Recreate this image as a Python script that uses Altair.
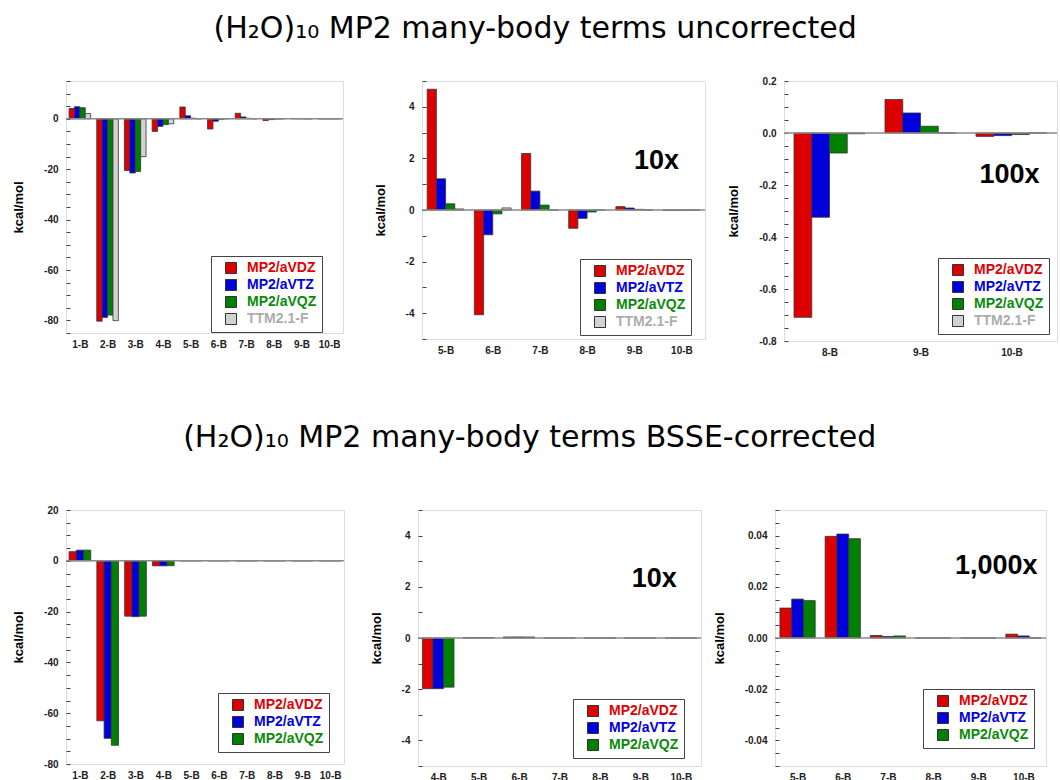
import json
import altair as alt
import pandas as pd

# ---------------- data ----------------
CATS = ["1-B", "2-B", "3-B", "4-B", "5-B", "6-B", "7-B", "8-B", "9-B", "10-B"]

SERIES_UNC = ["MP2/aVDZ", "MP2/aVTZ", "MP2/aVQZ", "TTM2.1-F"]
SERIES_COR = ["MP2/aVDZ", "MP2/aVTZ", "MP2/aVQZ"]

# uncorrected many-body terms (kcal/mol)
unc_avdz = [4.1, -80.3, -20.5, -5.0, 4.68, -4.06, 2.19, -0.709, 0.129, -0.013]
unc_avtz = [4.8, -78.8, -21.5, -3.0, 1.21, -0.96, 0.73, -0.324, 0.077, -0.010]
unc_avqz = [4.4, -77.9, -20.9, -2.3, 0.24, -0.15, 0.19, -0.077, 0.026, -0.006]
unc_ttm = [2.1, -80.1, -15.0, -2.0, 0.04, 0.08, 0.004, -0.003, 0.0, 0.0]

# BSSE-corrected many-body terms (kcal/mol)
cor_avdz = [3.6, -63.0, -21.8, -1.98, 0.0117, 0.0397, 0.0010, 0.0, 0.0, 0.0015]
cor_avtz = [4.2, -69.9, -22.0, -1.98, 0.0152, 0.0406, 0.0006, 0.0, 0.0, 0.0008]
cor_avqz = [4.2, -72.6, -21.8, -1.92, 0.0146, 0.0388, 0.0008, 0.0, 0.0, 0.0]

BAR_COLORS = ["#dd0000", "#0000dd", "#007f00", "#d2d2d2"]
LABEL_COLORS = ["#e00000", "#0000e0", "#0a8a0a", "#acacac"]

TITLE_TOP = "(H\u2082O)\u2081\u2080 MP2 many-body terms uncorrected"
TITLE_BOT = "(H\u2082O)\u2081\u2080 MP2 many-body terms BSSE-corrected"

# magnification notes: text, category, value
notes_top2 = (["10x"], ["10-B"], [1.9])
notes_top3 = (["100x"], ["10-B"], [-0.16])
notes_bot2 = (["10x"], ["9-B"], [2.3])
notes_bot3 = (["1,000x"], ["9-B"], [0.028])


def long_df(series, arrays):
    rows = []
    for s, arr in zip(series, arrays):
        for c, v in zip(CATS, arr):
            rows.append({"cat": c, "series": s, "value": v})
    return pd.DataFrame(rows)


df_unc = long_df(SERIES_UNC, [unc_avdz, unc_avtz, unc_avqz, unc_ttm])
df_cor = long_df(SERIES_COR, [cor_avdz, cor_avtz, cor_avqz])

FONT = "Liberation Sans"
GROUP = 0.78      # share of each category slot covered by its bar group
TICK = 4


def tick_values(lo, hi, step):
    n = int(round((hi - lo) / step))
    return [round(lo + i * step, 6) for i in range(n + 1)]


def major_test(step):
    return f"abs(datum.value / {step} - round(datum.value / {step})) < 1e-6"


def panel(df, series, cats, ydom, major, minor, fmt, w, h, lx, ly,
          note=None, note_dx=0):
    ncol = len(series)
    ncat = len(cats)
    cats_js = json.dumps(cats)
    series_js = json.dumps(series)
    bw = GROUP / ncol

    lab_expr = f"'{LABEL_COLORS[ncol - 1]}'"
    for s, c in reversed(list(zip(series[:-1], LABEL_COLORS[:ncol - 1]))):
        lab_expr = f"datum.value === '{s}' ? '{c}' : ({lab_expr})"

    test = major_test(major)
    tv = tick_values(ydom[0], ydom[1], minor)
    yscale = alt.Scale(domain=ydom, nice=False, zero=False)
    xscale = alt.Scale(domain=[-0.5, ncat - 0.5], nice=False, zero=False)

    # axis pulled inside by the tick length -> ticks point into the plot
    yaxis = alt.Axis(
        values=tv, format=fmt, offset=-TICK,
        labelExpr=f"({test}) ? replace(datum.label, '\u2212', '-') : ''",
        ticks=True, tickSize=TICK, tickColor="#444", tickWidth=1,
        domain=False, grid=False, labelOverlap=False, labelFlush=False,
        labelFont=FONT, labelFontSize=10, labelFontWeight="bold", labelColor="#222",
        labelPadding=8,
        title="kcal/mol", titleFont=FONT, titleFontSize=13, titleFontWeight="bold",
        titleColor="#000", titlePadding=18,
    )
    xaxis = alt.Axis(values=list(range(ncat)), labelExpr=f"{cats_js}[datum.value]",
                     title=None, labelAngle=0, ticks=False, domain=False, grid=False,
                     labelFlush=False, labelOverlap=False,
                     labelFont=FONT, labelFontSize=10, labelFontWeight="bold",
                     labelColor="#222", labelPadding=6)

    bars = alt.Chart(df).transform_calculate(
        ci=f"indexof({cats_js}, datum.cat)",
        si=f"indexof({series_js}, datum.series)",
    ).transform_filter("datum.ci >= 0 && datum.si >= 0").transform_calculate(
        x0=f"datum.ci - {GROUP / 2} + datum.si * {bw}",
        x1=f"datum.ci - {GROUP / 2} + (datum.si + 1) * {bw}",
    ).mark_bar(stroke="#333", strokeWidth=0.8, clip=True).encode(
        x=alt.X("x0:Q", scale=xscale, axis=xaxis),
        x2="x1:Q",
        y=alt.Y("value:Q", scale=yscale, axis=yaxis, stack=None),
        y2=alt.datum(0),
        color=alt.Color(
            "series:N", sort=series,
            scale=alt.Scale(domain=series, range=BAR_COLORS[:ncol]),
            legend=alt.Legend(
                orient="none", legendX=lx, legendY=ly, title=None,
                fillColor="white", strokeColor="#444", padding=5,
                symbolType="square", symbolSize=121, symbolStrokeColor="#333",
                symbolStrokeWidth=1, symbolOffset=8,
                labelFont=FONT, labelFontSize=14, labelFontWeight="bold",
                labelColor={"expr": lab_expr}, labelOffset=9, rowPadding=1,
            ),
        ),
    )

    zero = alt.Chart(pd.DataFrame({"value": [0.0]})).mark_rule(
        color="#8a8a8a", strokeWidth=1.6
    ).encode(y=alt.Y("value:Q", scale=yscale, axis=yaxis))
    layers = [bars, zero]

    if note is not None:
        nd = pd.DataFrame({"t": note[0], "cat": note[1], "value": note[2]})
        txt = alt.Chart(nd).transform_calculate(
            ci=f"indexof({cats_js}, datum.cat)"
        ).mark_text(
            font=FONT, fontSize=27, fontWeight="bold", color="#000",
            align="center", baseline="middle", dx=note_dx
        ).encode(
            x=alt.X("ci:Q", scale=xscale, axis=xaxis),
            y=alt.Y("value:Q", scale=yscale, axis=yaxis),
            text="t:N",
        )
        layers.append(txt)

    return alt.layer(*layers).properties(width=w, height=h)


p1 = panel(df_unc, SERIES_UNC, CATS, [-85, 15], 20, 5, "d", 277, 252, 145, 175)
p2 = panel(df_unc, SERIES_UNC, CATS[4:], [-5, 5], 2, 0.5, "d", 283, 258, 158, 178,
           note=notes_top2, note_dx=-25)
p3 = panel(df_unc, SERIES_UNC, CATS[7:], [-0.8, 0.2], 0.2, 0.05, ".1f", 273, 260, 154, 177,
           note=notes_top3, note_dx=-2)

p4 = panel(df_cor, SERIES_COR, CATS, [-80, 20], 20, 5, "d", 278, 254, 152, 183)
p5 = panel(df_cor, SERIES_COR, CATS[3:], [-5, 5], 2, 0.5, "d", 283, 256, 155, 189,
           note=notes_bot2, note_dx=14)
p6 = panel(df_cor, SERIES_COR, CATS[4:], [-0.05, 0.05], 0.02, 0.005, ".2f", 271, 256, 148, 179,
           note=notes_bot3, note_dx=18)

title_style = dict(fontSize=30, font="DejaVu Sans", fontWeight="normal", anchor="middle",
                   color="#000")

top = alt.hconcat(p1, p2, p3, spacing=79, bounds="flush",
                  title=alt.TitleParams(TITLE_TOP, offset=32, **title_style)
                  ).resolve_scale(color="independent").resolve_legend(color="independent")
bottom = alt.hconcat(p4, p5, p6, spacing=74, bounds="flush",
                     title=alt.TitleParams(TITLE_BOT, offset=52, **title_style)
                     ).resolve_scale(color="independent").resolve_legend(color="independent")

chart = alt.vconcat(top, bottom, spacing=64).resolve_scale(
    color="independent").resolve_legend(color="independent").properties(
    padding={"left": 12, "top": 13, "right": 0, "bottom": 0}
).configure_view(stroke="#555", strokeWidth=1.2).configure(background="white")

chart.save("out.html", embed_options={"renderer": "svg", "actions": False})
